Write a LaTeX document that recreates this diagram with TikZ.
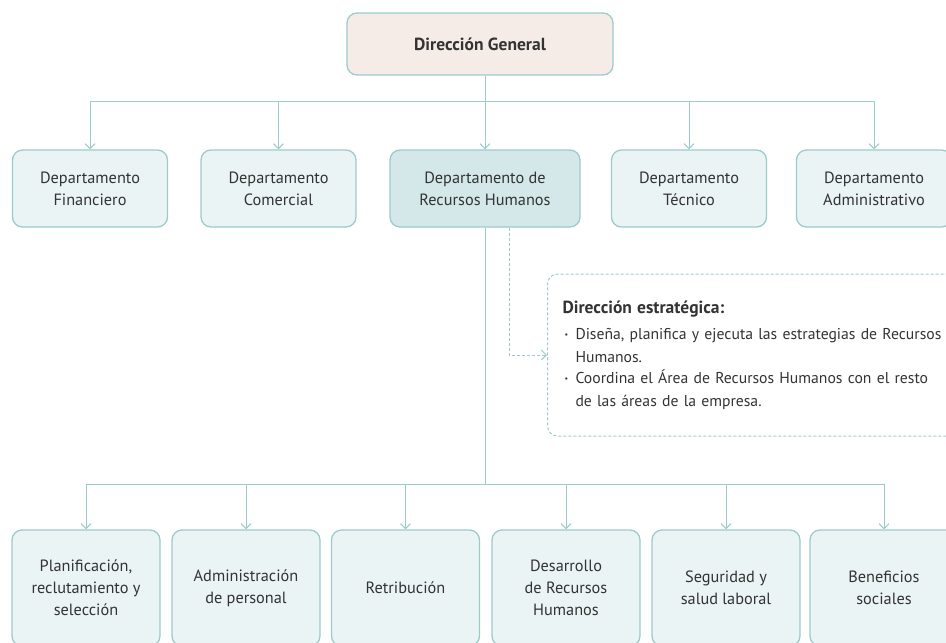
\documentclass[tikz,border=0pt]{standalone}
\usepackage{fontspec}
\setmainfont{PT Sans}
\usetikzlibrary{arrows.meta,positioning}
\definecolor{lineteal}{HTML}{9CCBCC}
\definecolor{boxfill}{HTML}{EAF4F4}
\definecolor{rhfill}{HTML}{D4E8E9}
\definecolor{topfill}{HTML}{F6ECE7}
\definecolor{txt}{HTML}{333333}
\newcommand{\notebullet}[1]{\makebox[13pt][l]{\hspace{2pt}\raisebox{0.2ex}{\footnotesize\textbullet}}\parbox[t]{376pt}{\raggedright #1}}
\begin{document}
\begin{tikzpicture}[x=1pt,y=-1pt,>={Straight Barb[length=5pt,width=10pt]},
  box/.style={draw=lineteal,line width=1.3pt,rounded corners=10pt,fill=boxfill,
    align=center,text=txt,font=\fontsize{16.3}{22}\selectfont,inner sep=0pt},
  dept/.style={box,minimum width=155,minimum height=77},
  sub/.style={box,minimum width=148,minimum height=116},
  note/.style={draw=lineteal,line width=1pt,dash pattern=on 3pt off 2pt,
    rounded corners=10pt,minimum height=162,text width=391,inner xsep=15,
    align=left,text=txt,font=\fontsize{15.7}{23}\selectfont},
  link/.style={lineteal,line width=1pt},
  dashlink/.style={link,dash pattern=on 3pt off 2pt}]
\useasboundingbox (0,0) rectangle (946,643);
% top level
\node[box,fill=topfill,minimum width=266,minimum height=62,
  font=\bfseries\fontsize{17.5}{22}\selectfont] (dg) at (480,44) {Dirección General};
% departments
\node[dept] (fin) at (90,188.5) {Departamento\\Financiero};
\node[dept] (com) at (278.5,188.5) {Departamento\\Comercial};
\node[dept,fill=rhfill,minimum width=190] (rh) at (485,188.5) {Departamento de\\Recursos Humanos};
\node[dept] (tec) at (689,188.5) {Departamento\\Técnico};
\node[dept] (adm) at (874,188.5) {Departamento\\Administrativo};
% HR functions
\node[sub] (pla) at (86,588) {Planificación,\\reclutamiento y\\selección};
\node[sub] (adp) at (246,588) {Administración\\de personal};
\node[sub] (ret) at (405.5,588) {Retribución};
\node[sub] (drh) at (566,588) {Desarrollo\\de Recursos\\Humanos};
\node[sub] (seg) at (726,588) {Seguridad y\\salud laboral};
\node[sub] (ben) at (884,588) {Beneficios\\sociales};
% note
\node[note,anchor=west] (de) at (547,355) {{\bfseries\fontsize{17.5}{23}\selectfont Dirección estratégica:}\par\vspace{3pt}
  \notebullet{Diseña, planifica y ejecuta las estrategias de Recursos\\Humanos.}\par\vspace{6pt}
  \notebullet{Coordina el Área de Recursos Humanos con el resto\\de las áreas de la empresa.}};
% connectors
\coordinate (busA) at (0,101);
\coordinate (busB) at (0,484);
\draw[link] (rh.north |- dg.south) -- (rh.north |- busA);
\draw[link] (fin.north |- busA) -- (adm.north |- busA);
\foreach \n in {fin,com,rh,tec,adm}
  \draw[link,->] (\n.north |- busA) -- (\n.north);
\draw[link] (rh.south) -- (rh.south |- busB);
\draw[link] (pla.north |- busB) -- (ben.north |- busB);
\foreach \n in {pla,adp,ret,drh,seg,ben}
  \draw[link,->] (\n.north |- busB) -- (\n.north);
\draw[dashlink,->] ([xshift=24]rh.south) |- (de.west);
\end{tikzpicture}
\end{document}
